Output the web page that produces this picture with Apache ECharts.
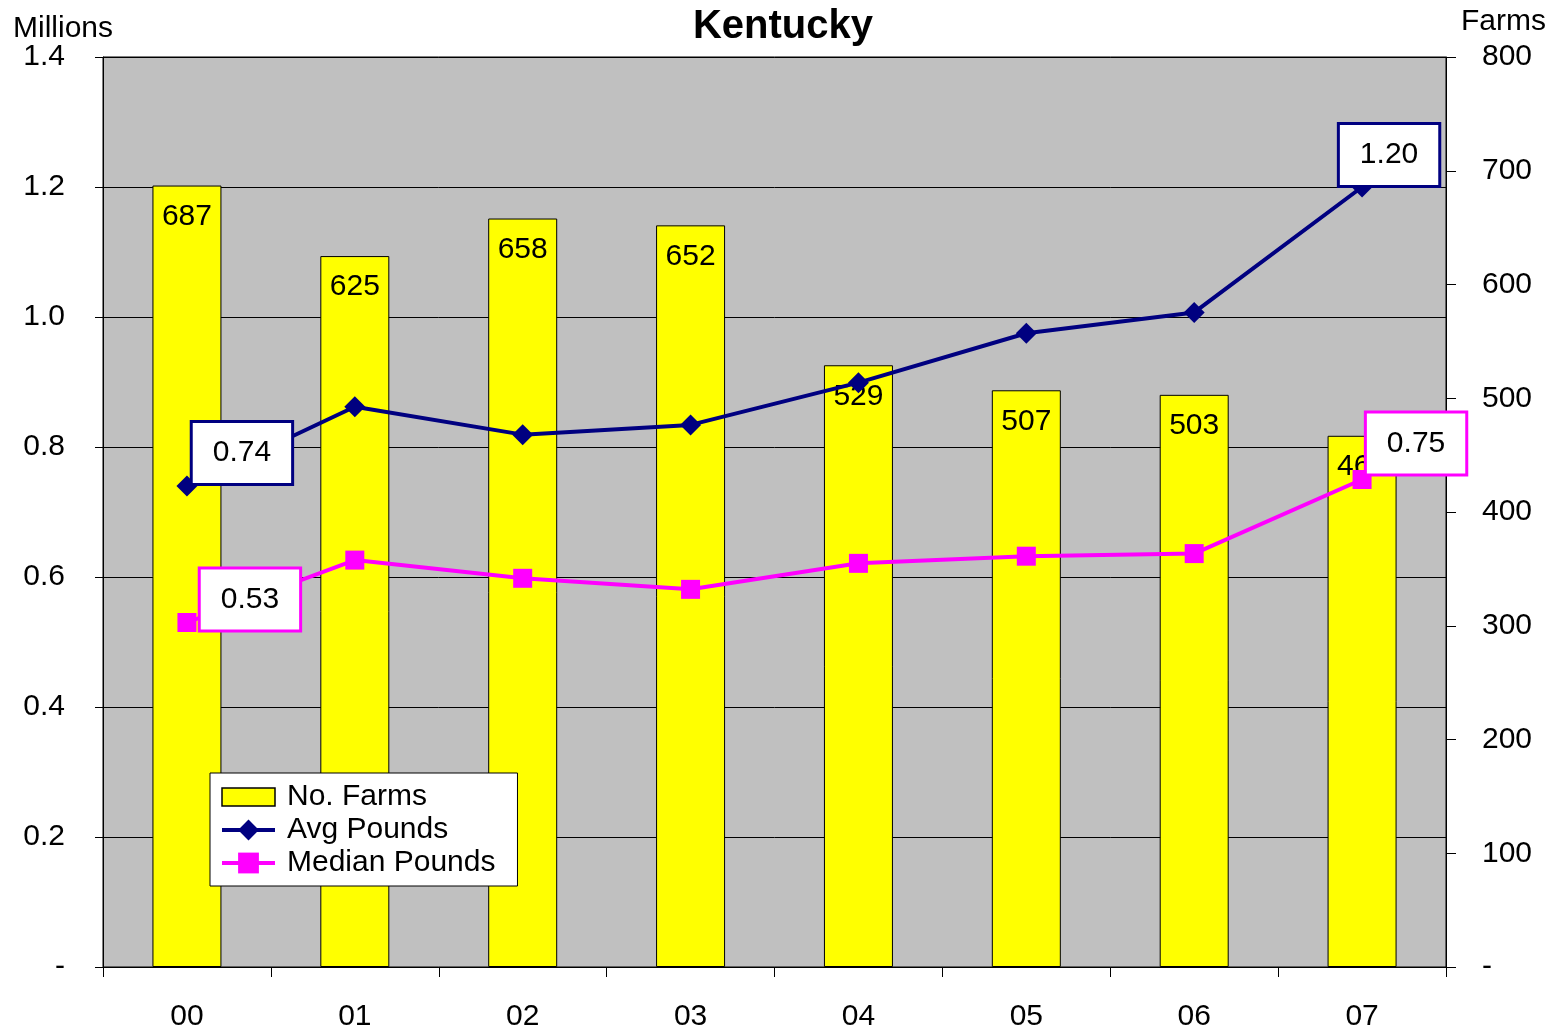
<!DOCTYPE html>
<html><head><meta charset="utf-8">
<script src="https://cdn.jsdelivr.net/npm/echarts@6/dist/echarts.min.js"></script>
<style>html,body{margin:0;padding:0;background:#fff}#c{width:1566px;height:1032px}</style>
</head><body><div id="c"></div>
<script>
const years = ['00','01','02','03','04','05','06','07'];
const farms = [687, 625, 658, 652, 529, 507, 503, 467];
const avgPounds = [0.74, 0.862, 0.819, 0.834, 0.899, 0.975, 1.007, 1.20];
const medianPounds = [0.53, 0.626, 0.598, 0.581, 0.621, 0.632, 0.636, 0.75];

const F = 'Arial, "Liberation Sans", sans-serif';
const FS = 30;
function boxLabel(color, offset){
  return {show:true, position:'inside', offset:offset, formatter:p=>p.value.toFixed(2),
    fontFamily:F, fontSize:FS, color:'#000', lineHeight:30,
    backgroundColor:'#fff', borderColor:color, borderWidth:3, padding:[15,20]};
}
const avgData = avgPounds.map((v,i)=>{
  const d={value:v};
  if(i===0) d.label=boxLabel('#000080',[55,-33]);
  if(i===avgPounds.length-1) d.label=boxLabel('#000080',[27,-32]);
  return d;
});
const medData = medianPounds.map((v,i)=>{
  const d={value:v};
  if(i===0) d.label=boxLabel('#FF00FF',[63,-23]);
  if(i===medianPounds.length-1) d.label=boxLabel('#FF00FF',[54,-36]);
  return d;
});

const chart = echarts.init(document.getElementById('c'), null, {renderer:'canvas'});
chart.setOption({
  animation:false,
  textStyle:{fontFamily:F},
  title:[
    {text:'Kentucky', left:'center', top:2, textStyle:{fontFamily:F, fontSize:40, fontWeight:'bold', color:'#000'}},
    {text:'Millions', left:8, top:9, textStyle:{fontFamily:F, fontSize:FS, fontWeight:'normal', color:'#000'}},
    {text:'Farms', left:1456, top:2, textStyle:{fontFamily:F, fontSize:FS, fontWeight:'normal', color:'#000'}}
  ],
  grid:{left:103, right:120, top:57, bottom:62, show:true, backgroundColor:'#C0C0C0', borderColor:'#000', borderWidth:1},
  legend:{
    orient:'vertical', left:210, top:773, padding:[9,22,8,10], itemGap:3,
    backgroundColor:'#fff', borderColor:'#000', borderWidth:1,
    itemWidth:53, itemHeight:26, textStyle:{fontFamily:F, fontSize:FS, color:'#000', lineHeight:30, padding:[0,0,0,7]},
    data:[
      {name:'No. Farms', icon:'path://M0,0h53v18h-53z', itemStyle:{color:'#FFFF00', borderColor:'#000', borderWidth:1.5}},
      {name:'Avg Pounds', lineStyle:{width:4, color:'#000080'}},
      {name:'Median Pounds', lineStyle:{width:4, color:'#FF00FF'}}
    ]
  },
  xAxis:{
    type:'category', data:years, boundaryGap:true,
    axisLine:{lineStyle:{color:'#000', width:1}},
    axisTick:{show:true, alignWithLabel:false, length:10, lineStyle:{color:'#000'}},
    axisLabel:{fontFamily:F, fontSize:FS, color:'#000', margin:35}
  },
  yAxis:[
    {type:'value', min:0, max:1.4, interval:0.2,
     axisLine:{show:true, lineStyle:{color:'#000'}},
     axisTick:{show:true, length:8, lineStyle:{color:'#000'}},
     splitLine:{show:true, lineStyle:{color:'#000', width:1}},
     axisLabel:{fontFamily:F, fontSize:FS, color:'#000', margin:38,
       formatter:v=> v===0 ? '-' : v.toFixed(1)}},
    {type:'value', min:0, max:800, interval:100, position:'right',
     axisLine:{show:true, lineStyle:{color:'#000'}},
     axisTick:{show:true, length:10, lineStyle:{color:'#000'}},
     splitLine:{show:false},
     axisLabel:{fontFamily:F, fontSize:FS, color:'#000', margin:36,
       formatter:v=> v===0 ? '-' : String(v)}}
  ],
  series:[
    {name:'No. Farms', type:'bar', yAxisIndex:1, data:farms, barWidth:69, z:2,
     itemStyle:{color:'#FFFF00', borderColor:'#000', borderWidth:1},
     label:{show:true, position:'insideTop', distance:16, fontFamily:F, fontSize:FS, color:'#000'}},
    {name:'Avg Pounds', type:'line', yAxisIndex:0, data:avgData, z:5,
     symbol:'diamond', symbolSize:21, lineStyle:{color:'#000080', width:4},
     itemStyle:{color:'#000080'}, label:{show:false}},
    {name:'Median Pounds', type:'line', yAxisIndex:0, data:medData, z:5,
     symbol:'rect', symbolSize:19, lineStyle:{color:'#FF00FF', width:4},
     itemStyle:{color:'#FF00FF'}, label:{show:false}}
  ]
});
</script></body></html>
